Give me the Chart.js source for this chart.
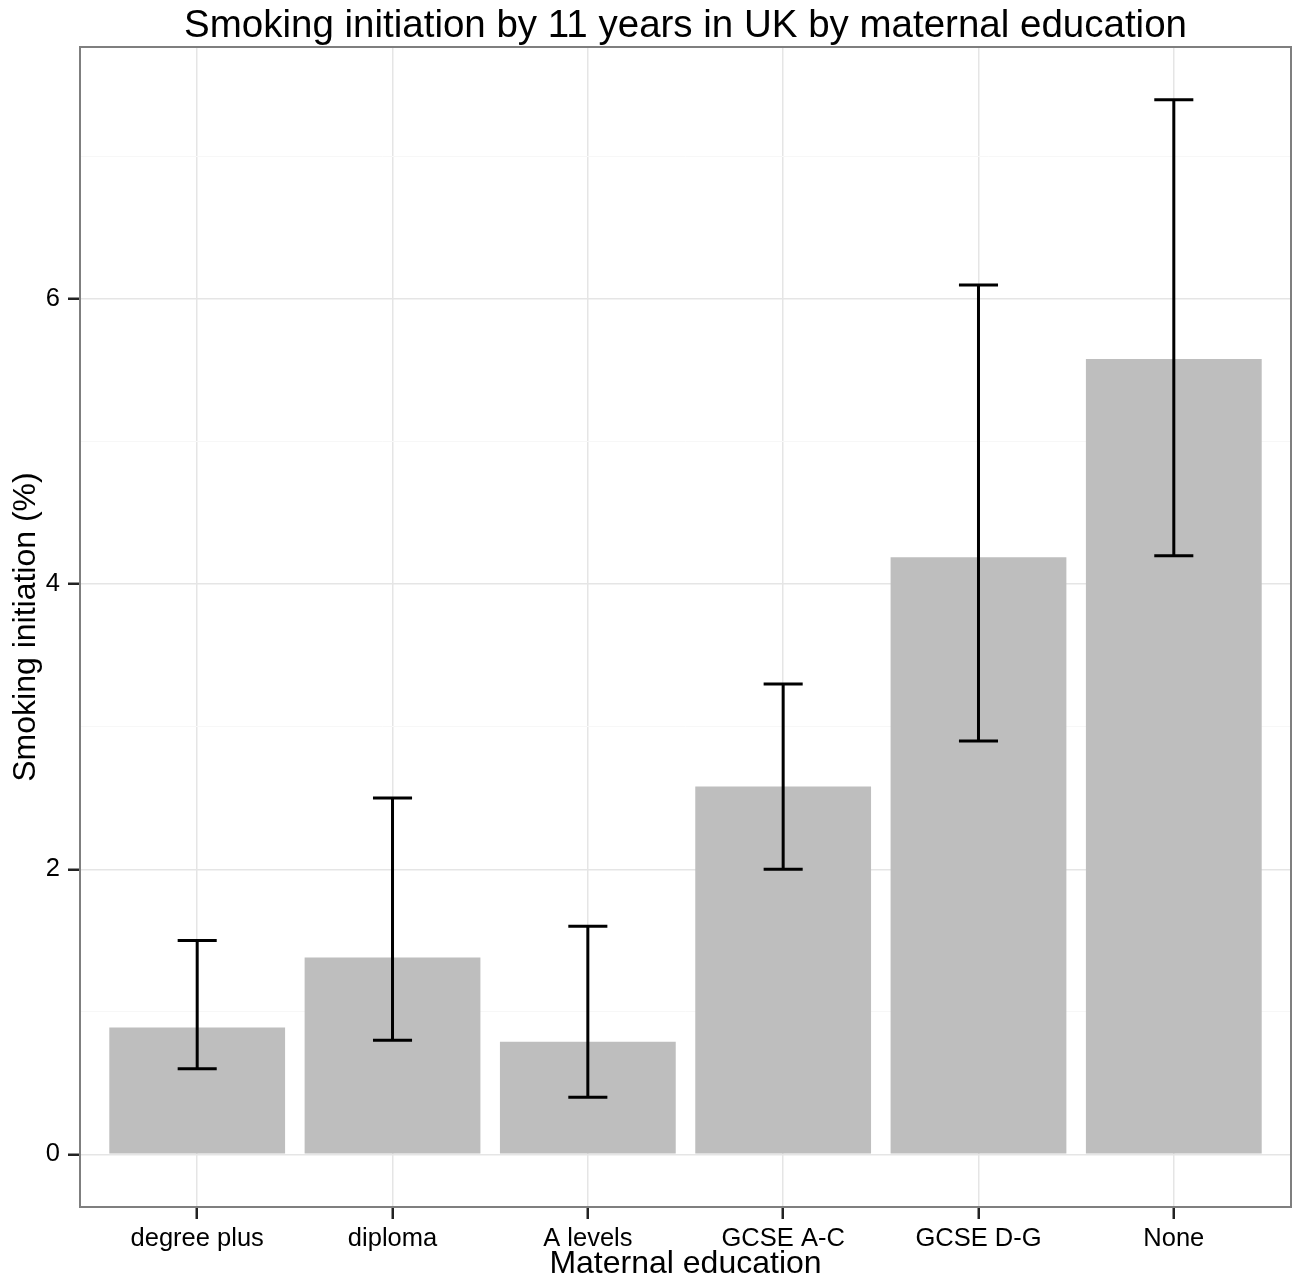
<!DOCTYPE html>
<html lang="en">

<head>
    <meta charset="UTF-8">
    <title>Smoking initiation by maternal education</title>
    <script src="https://cdn.jsdelivr.net/npm/chart.js"></script>
    <style>
        body { margin: 0; background: #fff; }
        #wrap { width: 1296px; height: 1281px; }
    </style>
</head>

<body>
    <div id="wrap">
        <canvas id="smokingChart"></canvas>
    </div>

    <script>
        // values
        const categories = ['degree plus', 'diploma', 'A levels', 'GCSE A-C', 'GCSE D-G', 'None'];
        const initiation = [0.89, 1.38, 0.79, 2.58, 4.19, 5.58];
        const lowerCI = [0.6, 0.8, 0.4, 2.0, 2.9, 4.2];
        const upperCI = [1.5, 2.5, 1.6, 3.3, 6.1, 7.4];
        const yLabelTicks = [0, 2, 4, 6];

        const FONT = "'Liberation Sans', Arial, sans-serif";

        // error bars with caps, drawn through the chart scales
        const errorBars = {
            id: 'errorBars',
            afterDatasetsDraw(chart) {
                const { ctx, scales: { x, y } } = chart;
                const half = x.getPixelForValue(1.1) - x.getPixelForValue(1);
                ctx.save();
                ctx.strokeStyle = '#000';
                ctx.lineWidth = 3;
                categories.forEach((c, i) => {
                    const px = x.getPixelForValue(i + 1);
                    const lo = y.getPixelForValue(lowerCI[i]);
                    const hi = y.getPixelForValue(upperCI[i]);
                    ctx.beginPath();
                    ctx.moveTo(px, lo); ctx.lineTo(px, hi);
                    ctx.moveTo(px - half, lo); ctx.lineTo(px + half, lo);
                    ctx.moveTo(px - half, hi); ctx.lineTo(px + half, hi);
                    ctx.stroke();
                });
                ctx.restore();
            }
        };

        // grey frame round the panel
        const panelBorder = {
            id: 'panelBorder',
            afterDraw(chart) {
                const { ctx, chartArea: a } = chart;
                ctx.save();
                ctx.strokeStyle = '#7f7f7f';
                ctx.lineWidth = 2;
                ctx.strokeRect(a.left, a.top, a.right - a.left, a.bottom - a.top);
                ctx.restore();
            }
        };

        const isMajor = v => yLabelTicks.includes(v);

        new Chart(document.getElementById('smokingChart'), {
            type: 'bar',
            data: {
                datasets: [{
                    label: 'Smoking initiation (%)',
                    data: initiation.map((v, i) => ({ x: i + 1, y: v })),
                    backgroundColor: '#bebebe',
                    borderWidth: 0,
                    categoryPercentage: 1,
                    barPercentage: 0.9
                }]
            },
            options: {
                responsive: true,
                maintainAspectRatio: false,
                animation: false,
                layout: { padding: { left: 0, right: 5, top: 0, bottom: 0 } },
                plugins: {
                    legend: { display: false },
                    tooltip: { enabled: false },
                    title: {
                        display: true,
                        fullSize: false,
                        text: 'Smoking initiation by 11 years in UK by maternal education',
                        color: '#000',
                        font: { family: FONT, size: 38.5, weight: 'normal', lineHeight: 1 },
                        padding: { top: 7, bottom: 1.5 }
                    }
                },
                scales: {
                    x: {
                        type: 'linear',
                        min: 0.4,
                        max: 6.6,
                        offset: false,
                        afterFit: s => { s.height = 74; },
                        border: { display: false },
                        grid: {
                            offset: false,
                            color: '#e5e5e5',
                            lineWidth: 1.5,
                            tickLength: 12,
                            tickColor: '#222',
                            tickWidth: 2.5
                        },
                        ticks: {
                            stepSize: 1,
                            includeBounds: false,
                            autoSkip: false,
                            maxRotation: 0,
                            padding: 5,
                            color: '#000',
                            font: { family: FONT, size: 25.5 },
                            callback: v => categories[v - 1]
                        },
                        title: {
                            display: true,
                            text: 'Maternal education',
                            color: '#000',
                            font: { family: FONT, size: 32, lineHeight: 1 },
                            padding: { top: 0, bottom: 1 }
                        }
                    },
                    y: {
                        min: -0.37,
                        max: 7.77,
                        afterFit: s => { s.width = 80; },
                        border: { display: false },
                        grid: {
                            color: c => isMajor(c.tick.value) ? '#e5e5e5' : '#f7f7f7',
                            lineWidth: c => isMajor(c.tick.value) ? 1.5 : 1,
                            tickLength: 12,
                            tickColor: c => isMajor(c.tick.value) ? '#222' : 'rgba(0,0,0,0)',
                            tickWidth: 2.5
                        },
                        ticks: {
                            stepSize: 1,
                            includeBounds: false,
                            padding: 8,
                            color: '#000',
                            font: { family: FONT, size: 25.5 },
                            callback: v => isMajor(v) ? String(v) : ''
                        },
                        title: {
                            display: true,
                            text: 'Smoking initiation (%)',
                            color: '#000',
                            font: { family: FONT, size: 32, lineHeight: 1 },
                            padding: { top: 10, bottom: 0 }
                        }
                    }
                }
            },
            plugins: [errorBars, panelBorder]
        });
    </script>

</body>

</html>
